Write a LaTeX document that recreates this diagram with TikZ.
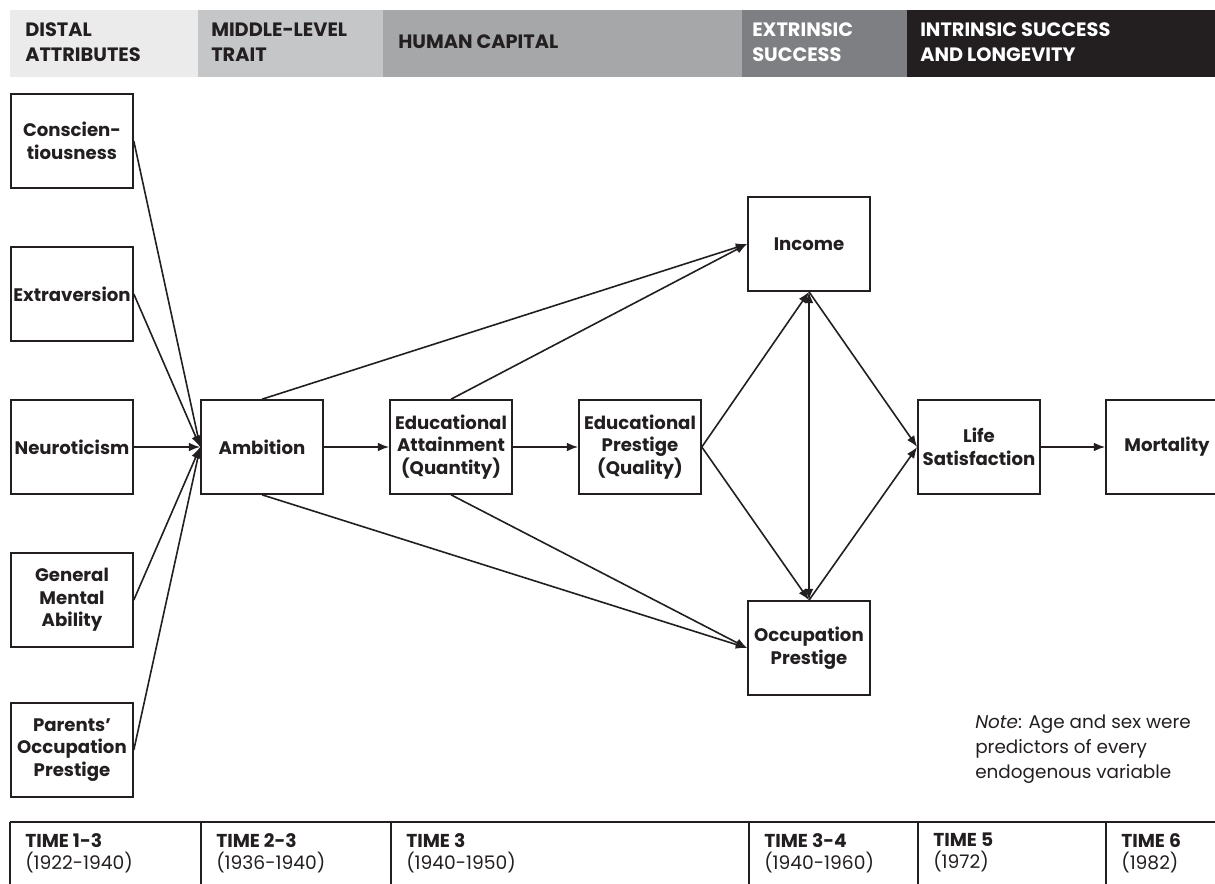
\documentclass[tikz,border=0pt]{standalone}
\usepackage{fontspec}
\setmainfont{Poppins}
\usepackage{xcolor}
\usepackage{tikz}
\usetikzlibrary{arrows.meta}

\definecolor{ink}{HTML}{231F20}
\definecolor{bandDistal}{HTML}{EBEBEC}
\definecolor{bandTrait}{HTML}{C5C6C8}
\definecolor{bandCapital}{HTML}{A6A7A9}
\definecolor{bandExtr}{HTML}{7E7F83}
\definecolor{bandIntr}{HTML}{231F20}

\begin{document}
\begin{tikzpicture}[
	x=0.75pt, y=-0.75pt,
	var/.style={draw=ink, line width=1.2pt, minimum width=91.5pt, minimum height=70.5pt,
		inner sep=0pt, align=center, text=ink, font=\bfseries\fontsize{13.6}{17}\selectfont},
	path/.style={draw=ink, line width=1.2pt, -{Latex[length=8.5pt,width=6.5pt]}},
	head/.style={anchor=west, align=left, inner sep=0pt, font=\bfseries\fontsize{14.5}{18.75}\selectfont},
	timebox/.style={anchor=north west, align=left, inner sep=0pt, text=ink, font=\fontsize{14}{16.5}\selectfont},
	]

	\useasboundingbox (0,0) rectangle (1215,884);

	% header bands
	\fill[bandDistal] (10,10) rectangle (198,77);
	\fill[bandTrait] (198,10) rectangle (383,77);
	\fill[bandCapital] (383,10) rectangle (742,77);
	\fill[bandExtr] (742,10) rectangle (907,77);
	\fill[bandIntr] (907,10) rectangle (1215,77);

	\node[head, text=ink] (hDistal) at (25,42) {DISTAL\\ATTRIBUTES};
	\node[head, text=ink] (hTrait) at (211,42) {MIDDLE-LEVEL\\TRAIT};
	\node[head, text=ink] (hCapital) at (398,42) {HUMAN CAPITAL};
	\node[head, text=white] (hExtr) at (752,42) {EXTRINSIC\\SUCCESS};
	\node[head, text=white] (hIntr) at (920,42) {INTRINSIC SUCCESS\\AND LONGEVITY};

	% distal attributes
	\node[var] (consc) at (72,141) {Conscien-\\tiousness};
	\node[var] (extra) at (72,294) {Extraversion};
	\node[var] (neuro) at (72,447) {Neuroticism};
	\node[var] (gma) at (72,600) {General\\Mental\\Ability};
	\node[var] (parOcc) at (72,750) {Parents'\\Occupation\\Prestige};

	% trait, human capital, success
	\node[var] (amb) at (262,447) {Ambition};
	\node[var] (eduAtt) at (451,447) {Educational\\Attainment\\(Quantity)};
	\node[var] (eduPres) at (640,447) {Educational\\Prestige\\(Quality)};
	\node[var] (income) at (809,244) {Income};
	\node[var] (occPres) at (809,648) {Occupation\\Prestige};
	\node[var] (lifeSat) at (979,447) {Life\\Satisfaction};
	\node[var] (mort) at (1167,447) {Mortality};

	% paths
	\foreach \n in {consc,extra,neuro,gma,parOcc}
		\draw[path] (\n.east) -- (amb.west);
	\draw[path] (amb) -- (eduAtt);
	\draw[path] (eduAtt) -- (eduPres);
	\draw[path] (amb.north) -- (income.west);
	\draw[path] (eduAtt.north) -- (income.west);
	\draw[path] (amb.south) -- (occPres.west);
	\draw[path] (eduAtt.south) -- (occPres.west);
	\draw[path] (eduPres.east) -- (income.south);
	\draw[path] (eduPres.east) -- (occPres.north);
	\draw[path, {Latex[length=8.5pt,width=6.5pt]}-{Latex[length=8.5pt,width=6.5pt]}] (income.south) -- (occPres.north);
	\draw[path] (income.south) -- (lifeSat.west);
	\draw[path] (occPres.north) -- (lifeSat.west);
	\draw[path] (lifeSat) -- (mort);

	% note
	\node[anchor=north west, align=left, inner sep=0pt, text=ink, font=\fontsize{13.8}{18.75}\selectfont]
		(note) at (975,715) {\textit{Note}: Age and sex were\\predictors of every\\endogenous variable};

	% time line
	\draw[ink, line width=1.2pt] (10,822) -- (1215,822);
	\foreach \x/\t/\d in {10/1-3/1922-1940, 201/2-3/1936-1940, 391/3/1940-1950,
		749/3-4/1940-1960, 918/5/1972, 1106/6/1982} {
		\draw[ink, line width=1.2pt] (\x,822) -- (\x,884);
		\node[timebox] (time\x) at (\x+15,833) {\textbf{TIME \t}\\(\d)};
	}

\end{tikzpicture}
\end{document}
